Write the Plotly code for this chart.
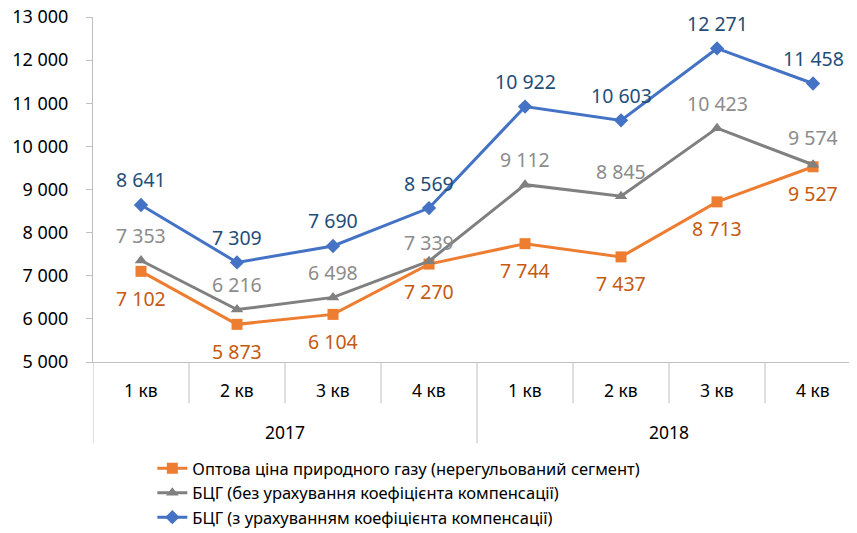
import plotly.graph_objects as go

quarters = ["1 кв", "2 кв", "3 кв", "4 кв", "1 кв", "2 кв", "3 кв", "4 кв"]
years = ["2017", "2018"]
orange_vals = [7102, 5873, 6104, 7270, 7744, 7437, 8713, 9527]
grey_vals = [7353, 6216, 6498, 7339, 9112, 8845, 10423, 9574]
blue_vals = [8641, 7309, 7690, 8569, 10922, 10603, 12271, 11458]
names = [
    "Оптова ціна природного газу (нерегульований сегмент)",
    "БЦГ (без урахування коефіцієнта компенсації)",
    "БЦГ (з урахуванням коефіцієнта компенсації)",
]

FONT = "Noto Sans"
xs = list(range(len(quarters)))

fig = go.Figure()
series = [
    (orange_vals, names[0], "#ED7D31", "square", "#C55A11"),
    (grey_vals, names[1], "#808080", "triangle-up", "#8C8C8C"),
    (blue_vals, names[2], "#4472C4", "diamond", "#1F4E79"),
]
for vals, name, col, sym, _ in series:
    fig.add_trace(go.Scatter(
        x=xs, y=vals, name=name, mode="lines+markers",
        line=dict(color=col, width=3),
        marker=dict(symbol=sym, size=11, color=col),
    ))

def fmt(v):
    return f"{v:,}".replace(",", " ")

annotations = []
shifts = {
    0: [-27] * 8,
    1: [25, 25, 25, 19, 25, 25, 25, 27],
    2: [25] * 8,
}
for si, (vals, name, col, sym, lcol) in enumerate(series):
    for i, v in enumerate(vals):
        annotations.append(dict(
            x=i, y=v, xref="x", yref="y", text=fmt(v), showarrow=False,
            yshift=shifts[si][i], yanchor="middle",
            font=dict(family=FONT, size=19.5, color=lcol),
        ))

for i, q in enumerate(quarters):
    annotations.append(dict(
        x=i, y=-0.081, xref="x", yref="paper", text=q, showarrow=False,
        yanchor="middle", font=dict(family=FONT, size=17.5, color="#000000"),
    ))
for gi, yr in enumerate(years):
    annotations.append(dict(
        x=gi * 4 + 1.5, y=-0.203, xref="x", yref="paper", text=yr, showarrow=False,
        yanchor="middle", font=dict(family=FONT, size=17.5, color="#000000"),
    ))

shapes = []
for b in [0.5, 1.5, 2.5, 4.5, 5.5, 6.5]:
    shapes.append(dict(type="line", xref="x", yref="paper", x0=b, x1=b, y0=0, y1=-0.119,
                       line=dict(color="#BFBFBF", width=1)))
for b in [-0.5, 3.5]:
    shapes.append(dict(type="line", xref="x", yref="paper", x0=b, x1=b, y0=0, y1=-0.235,
                       line=dict(color="#BFBFBF", width=1)))

fig.update_layout(
    width=849, height=525,
    margin=dict(l=85, r=0, t=9, b=171, autoexpand=False),
    paper_bgcolor="white", plot_bgcolor="white",
    separators=". ",
    font=dict(family=FONT, size=17, color="#000000"),
    xaxis=dict(range=[-0.5, 7.458], showgrid=False, zeroline=False, showline=True,
               linecolor="#BFBFBF", linewidth=1, showticklabels=False, ticks="",
               automargin=False),
    yaxis=dict(range=[5000, 13000], dtick=1000, tickformat=",d", showgrid=False,
               zeroline=False, showline=True, linecolor="#BFBFBF", linewidth=1,
               ticks="outside", ticklen=6, tickcolor="#BFBFBF",
               ticklabelstandoff=14, automargin=False, ticklabeloverflow="allow",
               tickfont=dict(family=FONT, size=18, color="#000000")),
    legend=dict(x=0.170, y=0.156, xref="container", yref="container",
                xanchor="left", yanchor="top",
                orientation="v", font=dict(family=FONT, size=16.5, color="#000000"),
                bgcolor="rgba(0,0,0,0)", tracegroupgap=0),
    annotations=annotations,
    shapes=shapes,
)

fig.write_html("out.html")
